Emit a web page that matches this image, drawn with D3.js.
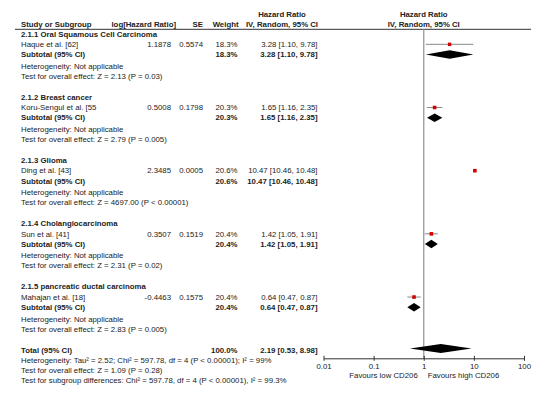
<!DOCTYPE html>
<html>
<head>
<meta charset="utf-8">
<script src="https://cdn.jsdelivr.net/npm/d3@7"></script>
<style>
  body { margin: 0; background: #fff; }
  svg text { font-family: "Liberation Sans", Arial, sans-serif; font-size: 7.8px; fill: #222; }
  svg text.b { font-weight: bold; }
</style>
</head>
<body>
<div id="chart"></div>
<script>
// Forest plot data
const groups = ["2.1.1 Oral Squamous Cell Carcinoma", "2.1.2 Breast cancer", "2.1.3 Glioma",
    "2.1.4 Cholangiocarcinoma", "2.1.5 pancreatic ductal carcinoma"];
const studies = ["Haque et al. [62]", "Koru-Sengul et al. [55", "Ding et al. [43]", "Sun et al. [41]", "Mahajan et al. [18]"];
const logHR = ["1.1878", "0.5008", "2.3485", "0.3507", "-0.4463"];
const se = ["0.5574", "0.1798", "0.0005", "0.1519", "0.1575"];
const weights = [18.3, 20.3, 20.6, 20.4, 20.4];
const hr = [3.28, 1.65, 10.47, 1.42, 0.64];
const ciLow = [1.10, 1.16, 10.46, 1.05, 0.47];
const ciHigh = [9.78, 2.35, 10.48, 1.91, 0.87];
const effectTests = ["Z = 2.13 (P = 0.03)", "Z = 2.79 (P = 0.005)", "Z = 4697.00 (P < 0.00001)",
    "Z = 2.31 (P = 0.02)", "Z = 2.83 (P = 0.005)"];
const total = { hr: 2.19, lo: 0.53, hi: 8.98, weight: "100.0%" };
const totalNotes = [
    "Heterogeneity: Tau\u00b2 = 2.52; Chi\u00b2 = 597.78, df = 4 (P < 0.00001); I\u00b2 = 99%",
    "Test for overall effect: Z = 1.09 (P = 0.28)",
    "Test for subgroup differences: Chi\u00b2 = 597.78, df = 4 (P < 0.00001), I\u00b2 = 99.3%"
];
const axisTicks = [0.01, 0.1, 1, 10, 100];
const tickLabels = ["0.01", "0.1", "1", "10", "100"];

const W = 550, H = 400;
const svg = d3.select("#chart").append("svg").attr("width", W).attr("height", H);

// scales
const x = d3.scaleLog().domain([0.01, 100]).range([323.5, 524]);
const row = d3.scaleLinear().domain([0, 1]).range([34, 44.53]);
const size = d3.scaleSqrt().domain([0, 20.6]).range([0, 3.6]);

// column anchors
const col = { name: 21, log: 171, se: 203, weight: 237.5, ci: 317.5, ciHead: 282 };
const fmt = v => v.toFixed(2);
const ciText = (a, b, c) => `${fmt(a)} [${fmt(b)}, ${fmt(c)}]`;

function txt(xp, yp, s, bold, anchor) {
    return svg.append("text")
        .attr("x", xp).attr("y", yp).attr("dy", "0.35em")
        .attr("class", bold ? "b" : null)
        .attr("text-anchor", anchor || "start")
        .text(s);
}

// headers
txt(col.ciHead, 14, "Hazard Ratio", true, "middle");
txt(x(1), 14, "Hazard Ratio", true, "middle");
txt(col.name, 24, "Study or Subgroup", true);
txt(176, 24, "log[Hazard Ratio]", true, "end");
txt(col.se, 24, "SE", true, "end");
txt(col.weight + 1, 24, "Weight", true, "end");
txt(col.ciHead, 24, "IV, Random, 95% CI", true, "middle");
txt(x(1), 24, "IV, Random, 95% CI", true, "middle");

svg.append("line")
    .attr("x1", 15).attr("x2", 531)
    .attr("y1", 29.3).attr("y2", 29.3)
    .attr("stroke", "#333").attr("stroke-width", 1);

// null line
svg.append("line")
    .attr("x1", x(1)).attr("x2", x(1))
    .attr("y1", 29.3).attr("y2", 358.3)
    .attr("stroke", "#999").attr("stroke-width", 1.3);

const diamond = (yc, lo, mid, hi, h) =>
    `M${x(lo)},${yc} L${x(mid)},${yc - h} L${x(hi)},${yc} L${x(mid)},${yc + h} Z`;

groups.forEach((g, i) => {
    const base = i * 6;
    const yStudy = row(base + 0.98), ySub = row(base + 1.95);

    txt(col.name, row(base), g, true);

    txt(col.name, yStudy, studies[i]);
    txt(col.log, yStudy, logHR[i], false, "end");
    txt(col.se, yStudy, se[i], false, "end");
    txt(col.weight, yStudy, weights[i].toFixed(1) + "%", false, "end");
    txt(col.ci, yStudy, ciText(hr[i], ciLow[i], ciHigh[i]), false, "end");

    txt(col.name, ySub, "Subtotal (95% CI)", true);
    txt(col.weight, ySub, weights[i].toFixed(1) + "%", true, "end");
    txt(col.ci, ySub, ciText(hr[i], ciLow[i], ciHigh[i]), true, "end");

    txt(col.name, row(base + 3.05), "Heterogeneity: Not applicable");
    txt(col.name, row(base + 4), "Test for overall effect: " + effectTests[i]);

    // study CI and square
    svg.append("line")
        .attr("x1", x(ciLow[i])).attr("x2", x(ciHigh[i]))
        .attr("y1", yStudy).attr("y2", yStudy)
        .attr("stroke", "#888").attr("stroke-width", 1);
    const s = size(weights[i]);
    svg.append("rect")
        .attr("x", x(hr[i]) - s / 2).attr("y", yStudy - s / 2)
        .attr("width", s).attr("height", s)
        .attr("fill", "#d40000");

    // subtotal diamond
    svg.append("path")
        .attr("d", diamond(ySub, ciLow[i], hr[i], ciHigh[i], 4.3))
        .attr("fill", "#000");
});

// total
const yTot = row(30);
txt(col.name, yTot, "Total (95% CI)", true);
txt(col.weight, yTot, total.weight, true, "end");
txt(col.ci, yTot, ciText(total.hr, total.lo, total.hi), true, "end");
totalNotes.forEach((n, k) => txt(col.name, row(30.95 + k * 0.95), n));
svg.append("path")
    .attr("d", diamond(yTot - 1.3, total.lo, total.hr, total.hi, 4.5))
    .attr("fill", "#000");

// axis
const axisG = svg.append("g")
    .attr("transform", "translate(0,358.3)")
    .call(d3.axisBottom(x).tickValues(axisTicks).tickSizeOuter(0)
        .tickFormat((d, i) => tickLabels[i]));
axisG.select(".domain").attr("stroke", "#333");
axisG.selectAll(".tick line").attr("y1", -2.5).attr("y2", 2.5).attr("stroke", "#333");
axisG.selectAll(".tick text")
    .attr("y", 8).attr("dy", "0.35em")
    .style("font-family", "\"Liberation Sans\", Arial, sans-serif")
    .style("font-size", "7.8px").attr("fill", "#222");

txt(x(1) - 6, 375, "Favours low CD206", false, "end");
txt(x(1) + 4, 375, "Favours high CD206");
</script>
</body>
</html>
